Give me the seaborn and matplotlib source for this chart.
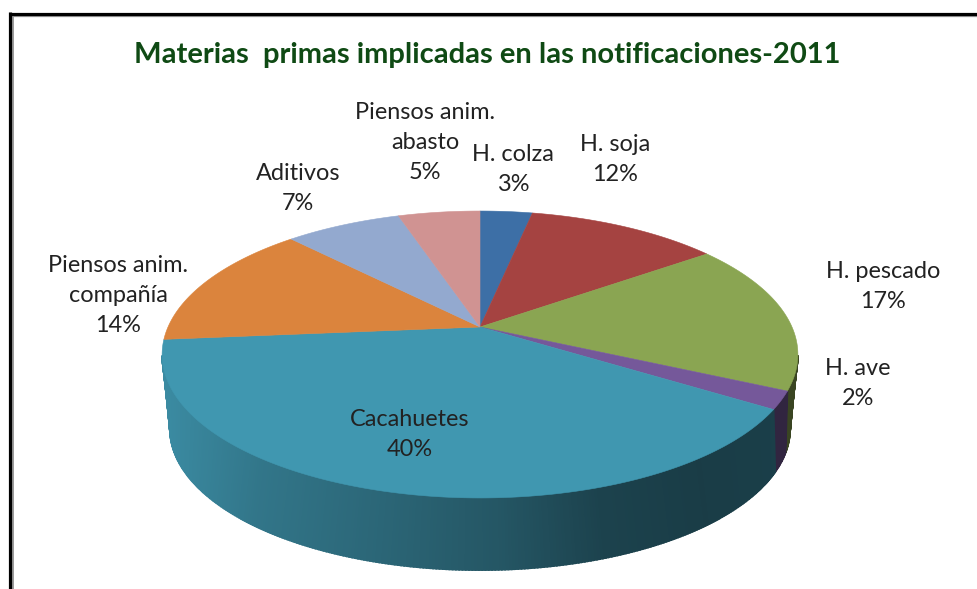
import numpy as np
import matplotlib
matplotlib.use("Agg")
import matplotlib.pyplot as plt
import seaborn as sns

title = "Materias  primas implicadas en las notificaciones-2011"
categories = ["H. colza", "H. soja", "H. pescado", "H. ave", "Cacahuetes",
              "Piensos anim.\ncompañía", "Aditivos", "Piensos anim.\nabasto"]
values = [3.2, 11.8, 17, 2, 39.6, 14.3, 7.1, 5]
colors = ["#3d6fa6", "#a54341", "#8aa552", "#75589a", "#4097b0",
          "#db843d", "#93a9cf", "#d09392"]
label_x = [513, 615, 883, 858, 410, 118, 298, 425]
label_y = [169.5, 159.5, 286.5, 383.5, 434.5, 295.5, 188.5, 142.5]

sns.set_theme(style="white")
plt.rcParams["font.family"] = ["Lato", "DejaVu Sans"]

fig = plt.figure(figsize=(9.78, 5.89), dpi=100, facecolor="white")
ax = fig.add_axes([0, 0, 1, 1])
ax.set_xlim(0, 978)
ax.set_ylim(589, 0)
ax.axis("off")

CX, CY = 480, 327


def top_rim(t):
    u, v = np.sin(t), np.cos(t)
    d = 1 + 0.1916 * v
    return CX + 312 * u / d, CY - 138.2 * v / d


def low_rim(t):
    u, v = np.sin(t), np.cos(t)
    d = 1 + 0.2757 * v
    return CX + 298 * u / d, 390 - 130.4 * v / d


shade_x = [160, 260, 400, 500, 600, 700, 800]
shade_f = [0.93, 0.78, 0.66, 0.57, 0.44, 0.40, 0.42]

edges = 2 * np.pi * np.cumsum([0] + values) / sum(values)

# Side wall, drawn strip by strip (back to front) for the horizontal gradient
strips = []
for a, b, c in zip(edges[:-1], edges[1:], colors):
    n = max(2, int((b - a) / 0.008))
    ts = np.linspace(a, b, n + 1)
    base = np.array(matplotlib.colors.to_rgb(c))
    for t0, t1 in zip(ts[:-1], ts[1:]):
        if np.cos((t0 + t1) / 2) > -0.2:
            continue
        strips.append((np.cos((t0 + t1) / 2), t0, t1, base))

for _, t0, t1, base in sorted(strips, key=lambda s: -s[0]):
    x0, y0 = top_rim(t0)
    x1, y1 = top_rim(t1)
    x2, y2 = low_rim(t1)
    x3, y3 = low_rim(t0)
    f = np.interp((x0 + x1 + x2 + x3) / 4, shade_x, shade_f)
    ax.fill([x0, x1, x2, x3], [y0, y1, y2, y3], color=tuple(base * f), lw=1.3, zorder=2)

# Top face
for a, b, c in zip(edges[:-1], edges[1:], colors):
    ts = np.linspace(a, b, 200)
    xs, ys = top_rim(ts)
    ax.fill(np.r_[CX, xs], np.r_[CY, ys], color=c, lw=0.4, zorder=3)

for name, val, x, y in zip(categories, values, label_x, label_y):
    ax.text(x, y, f"{name}\n{round(val)}%", ha="center", va="center", fontsize=16.9,
            color="#222222", linespacing=1.55, zorder=5)

ax.text(487, 54.5, title, ha="center", va="center", fontsize=21, fontweight="bold",
        color="#0f4a14", zorder=5)

# Chart frame: black line with a grey inner edge, running off the right and bottom
ax.plot([12.5, 12.5], [16, 589], color="#9a9a9a", lw=1.4, solid_capstyle="butt", zorder=6)
ax.plot([12, 978], [16, 16], color="#9a9a9a", lw=0.9, solid_capstyle="butt", zorder=6)
ax.plot([10, 10], [12, 589], color="black", lw=2.3, solid_capstyle="butt", zorder=7)
ax.plot([9, 978], [13.5, 13.5], color="black", lw=2.3, solid_capstyle="butt", zorder=7)

fig.savefig("out.png", dpi=100)
